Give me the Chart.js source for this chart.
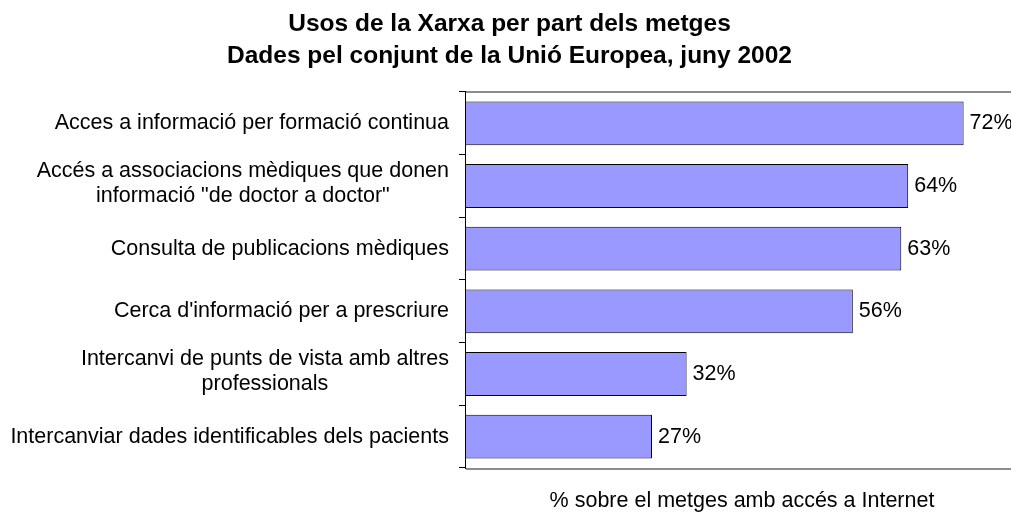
<!DOCTYPE html>
<html><head><meta charset="utf-8">
<script src="https://cdn.jsdelivr.net/npm/chart.js@4"></script>
<style>html,body{margin:0;padding:0;overflow:hidden;background:#fff}#wrap{width:1019px;height:516px}</style>
</head><body><div id="wrap"><canvas id="c" width="1019" height="516"></canvas></div>
<script>
const categories = [
  ["Acces a informació per formació continua"],
  ["Accés a associacions mèdiques que donen", "informació \"de doctor a doctor\""],
  ["Consulta de publicacions mèdiques"],
  ["Cerca d'informació per a prescriure"],
  ["Intercanvi de punts de vista amb altres", "professionals"],
  ["Intercanviar dades identificables dels pacients"]
];
const values = [72, 64, 63, 56, 32, 27];
const titleLines = ["Usos de la Xarxa per part dels metges", "Dades pel conjunt de la Unió Europea, juny 2002"];
const xAxisTitle = "% sobre el metges amb accés a Internet";
const xMin = 0, xMax = 80;

const FONT = "'Liberation Sans', Arial, sans-serif";
const TXT = 21.5;

const decor = {
  id: 'decor',
  afterDatasetsDraw(chart) {
    const ctx = chart.ctx;
    const meta = chart.getDatasetMeta(0);
    ctx.save();
    ctx.font = TXT + "px " + FONT;
    ctx.fillStyle = "#000";
    ctx.textAlign = "left";
    ctx.textBaseline = "middle";
    meta.data.forEach((bar, i) => {
      ctx.fillText(values[i] + "%", bar.x + 6, bar.y);
    });
    ctx.restore();
  },
  afterDraw(chart) {
    const ctx = chart.ctx;
    const a = chart.chartArea;
    const y = chart.scales.y;
    ctx.save();
    ctx.strokeStyle = "#8c8c8c";
    ctx.lineWidth = 2;
    ctx.beginPath();
    ctx.moveTo(a.left + 1, a.top); ctx.lineTo(chart.width, a.top);
    ctx.moveTo(a.left + 1, a.bottom + 1); ctx.lineTo(chart.width, a.bottom + 1);
    ctx.stroke();
    ctx.font = TXT + "px " + FONT;
    ctx.fillStyle = "#000";
    ctx.textAlign = "center";
    ctx.textBaseline = "middle";
    const rightEdge = a.left - 16;
    const lh = 25;
    categories.forEach((lines, i) => {
      const cy = y.getPixelForValue(i) - (lines.length > 1 ? 2 : 0);
      const maxW = Math.max(...lines.map(l => ctx.measureText(l).width));
      const cx = rightEdge - maxW / 2;
      const y0 = cy - (lines.length - 1) * lh / 2;
      lines.forEach((l, j) => ctx.fillText(l, cx, y0 + j * lh));
    });
    ctx.restore();
  }
};

new Chart(document.getElementById('c'), {
  type: 'bar',
  data: {
    labels: categories.map(c => c.join(' ')),
    datasets: [{
      data: values,
      backgroundColor: '#9999ff',
      borderColor: '#000',
      borderWidth: 1,
      borderSkipped: false,
      barPercentage: 0.7,
      categoryPercentage: 1.0
    }]
  },
  options: {
    indexAxis: 'y',
    responsive: false,
    animation: false,
    layout: { padding: 0 },
    plugins: {
      legend: { display: false },
      tooltip: { enabled: false },
      title: {
        display: true,
        text: titleLines,
        color: '#000',
        font: { family: FONT, size: 24.5, weight: 'bold', lineHeight: 1.306 },
        padding: { top: 8.5, bottom: 19.5 }
      }
    },
    scales: {
      x: {
        min: xMin, max: xMax,
        ticks: { display: false },
        grid: { display: false, drawTicks: false },
        border: { display: false },
        title: {
          display: true,
          text: xAxisTitle,
          color: '#000',
          font: { family: FONT, size: TXT },
          padding: { top: 0, bottom: 2 }
        },
        afterFit(s) { s.height = 48; }
      },
      y: {
        ticks: { display: false },
        grid: { drawOnChartArea: false, drawTicks: true, tickLength: 6, color: '#000', offset: true },
        border: { display: true, color: '#000', width: 1 },
        afterFit(s) { s.width = 465; }
      }
    }
  },
  plugins: [decor]
});
</script>
</body></html>
